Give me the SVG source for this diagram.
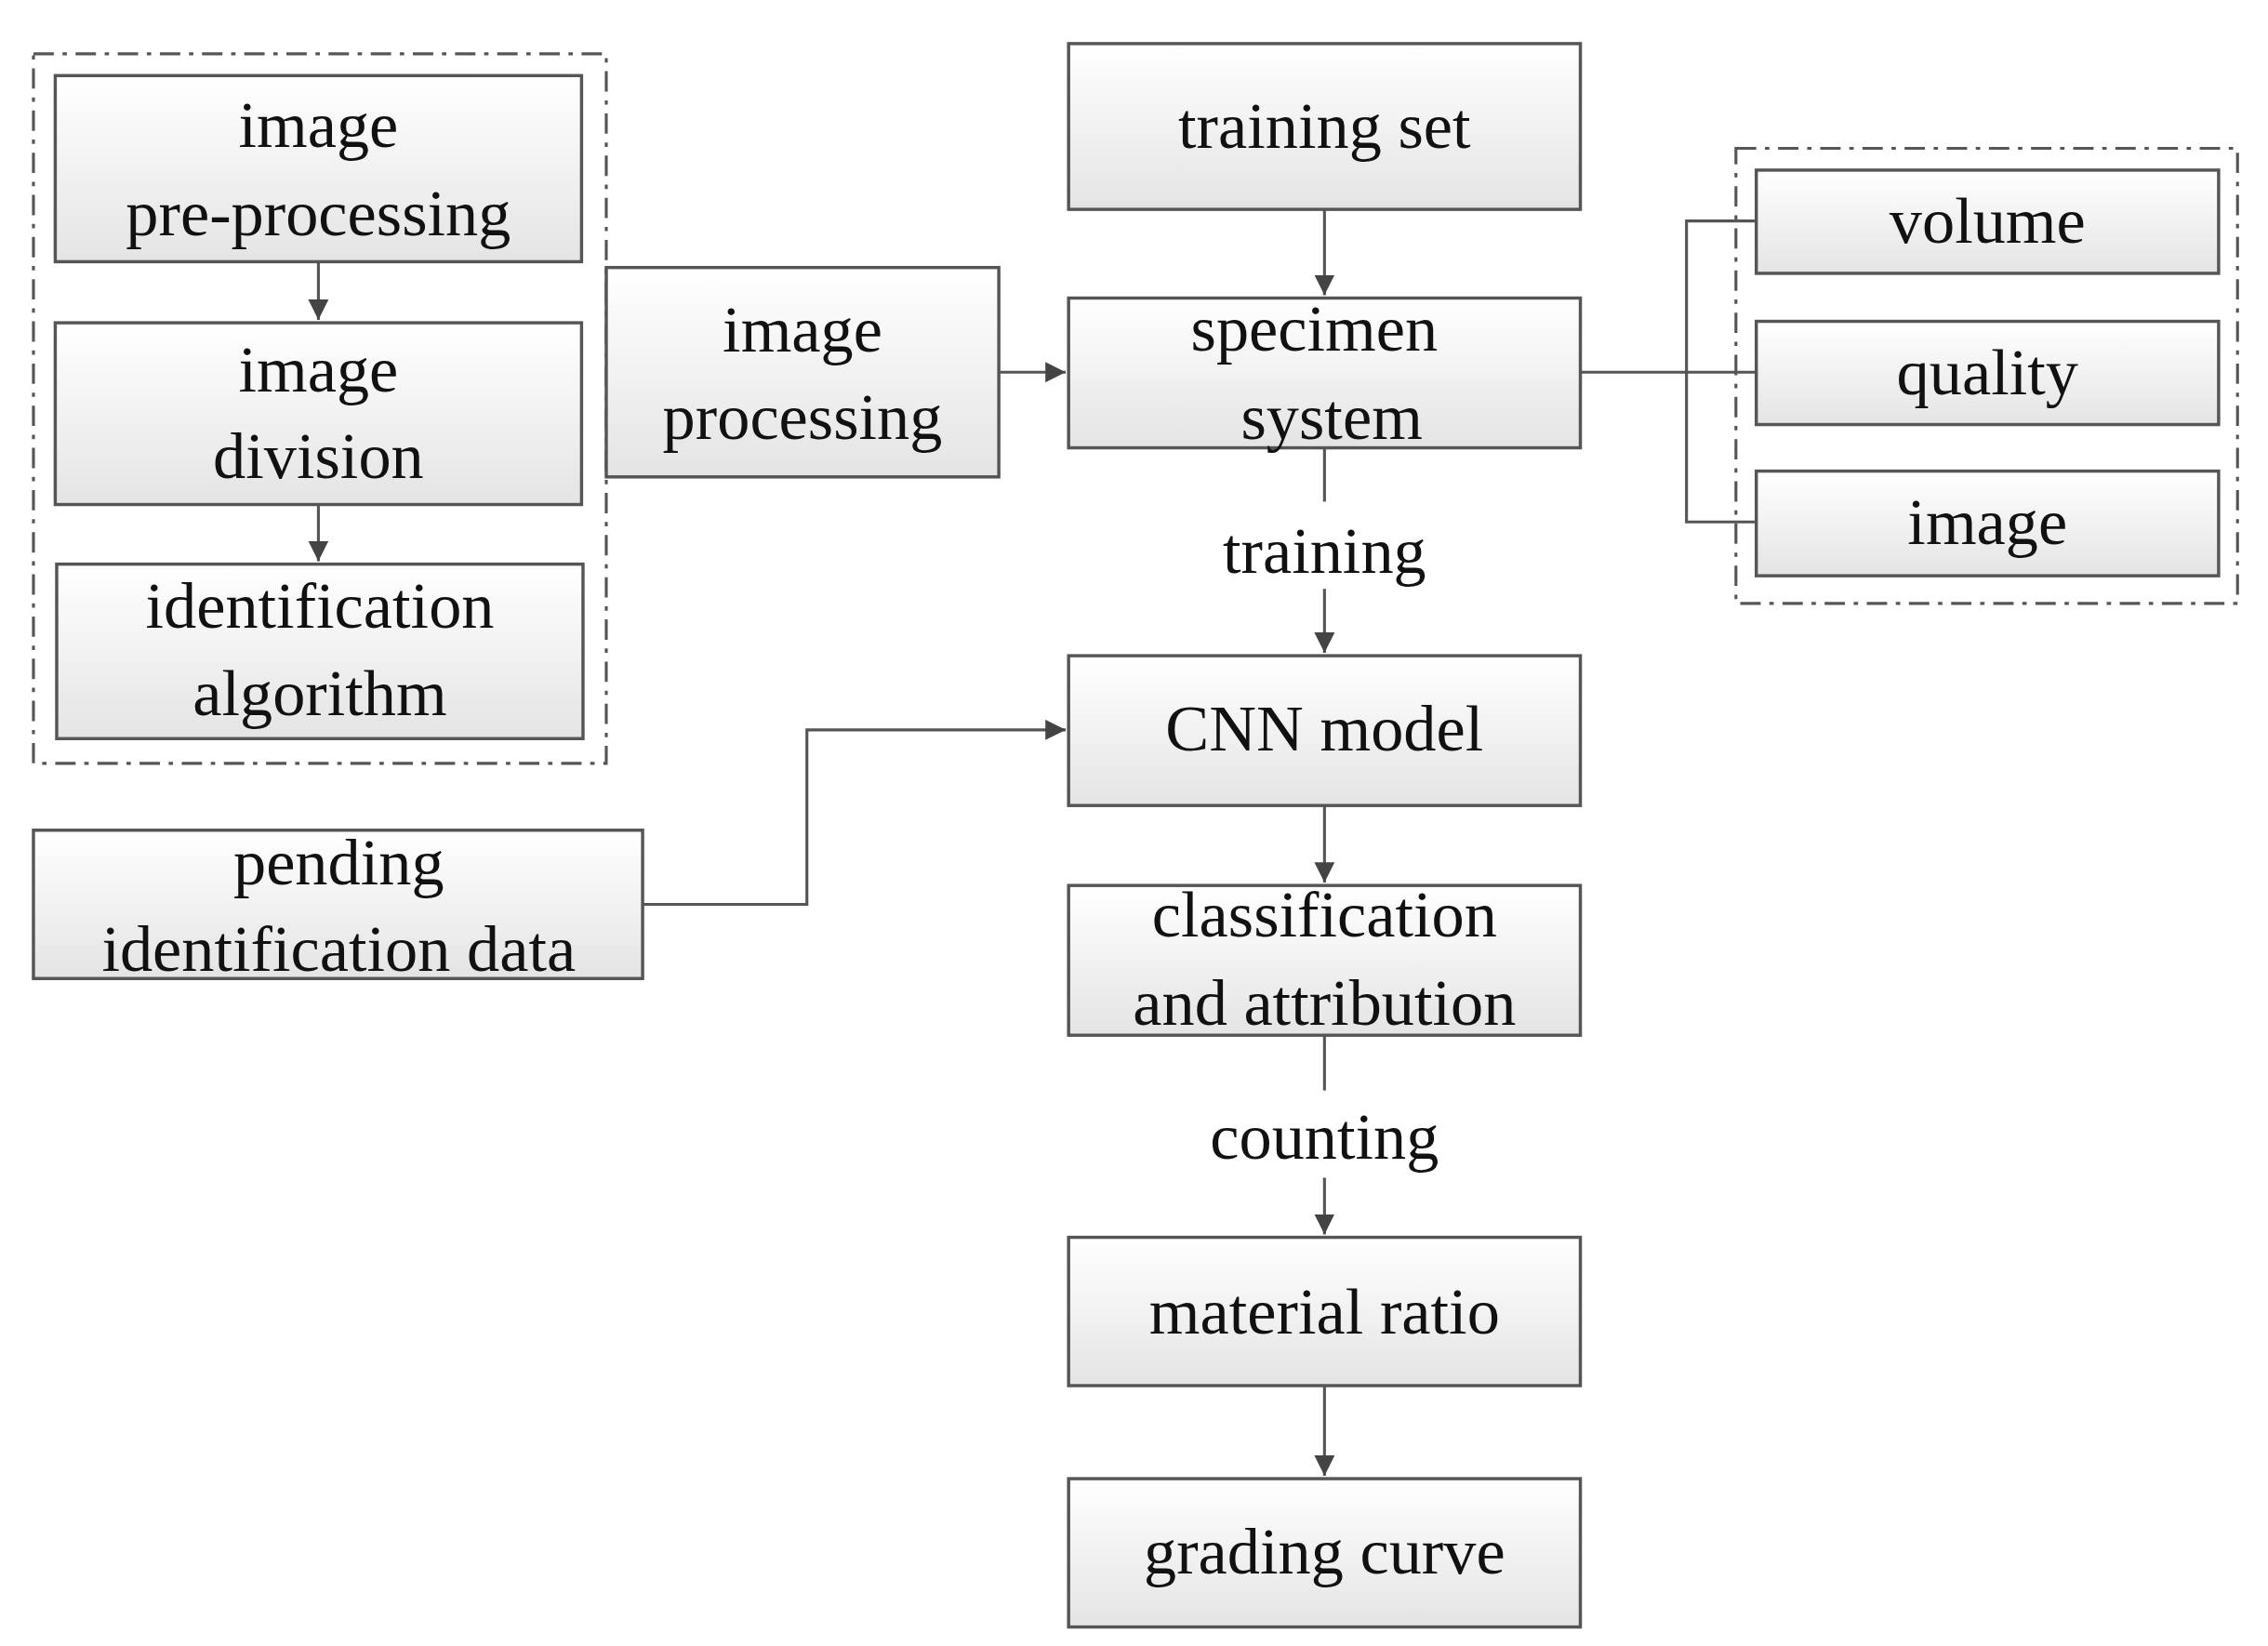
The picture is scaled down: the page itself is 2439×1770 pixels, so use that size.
<svg xmlns="http://www.w3.org/2000/svg" width="2439" height="1770" viewBox="0 0 2439 1770">
<defs>
<linearGradient id="g" x1="0" y1="0" x2="0" y2="1"><stop offset="0" stop-color="#ffffff"/><stop offset="1" stop-color="#e4e4e4"/></linearGradient>
<marker id="a" viewBox="0 0 10 10" refX="10" refY="5" markerWidth="14" markerHeight="14" markerUnits="userSpaceOnUse" orient="auto"><path d="M0,0 L10,5 L0,10 z" fill="#444"/></marker>
</defs>
<style>
.b{fill:url(#g);stroke:#555;stroke-width:2.2}
.d{fill:none;stroke:#555;stroke-width:2;stroke-dasharray:14,6,3,6}
.t{font-family:"Liberation Serif","Times New Roman",serif;font-size:45px;fill:#111;text-anchor:middle}
.c{fill:none;stroke:#555;stroke-width:2}
.ar{fill:none;stroke:#555;stroke-width:2;marker-end:url(#a)}
</style>
<rect width="2439" height="1770" fill="#fff"/>
<g transform="scale(1.5635)">
<rect class="d" x="23" y="37" width="394" height="488"/>
<rect class="d" x="1194" y="102" width="345" height="313"/>
<g id="connectors">
<path class="ar" d="M219,180 V220"/>
<path class="ar" d="M219,347 V386"/>
<path class="ar" d="M687,256 H733"/>
<path class="ar" d="M911,144 V203"/>
<path class="c" d="M911,308 V345"/>
<path class="ar" d="M911,405 V449"/>
<path class="ar" d="M442,622 H555 V502 H733"/>
<path class="ar" d="M911,554 V607"/>
<path class="c" d="M911,712 V750"/>
<path class="ar" d="M911,810 V849"/>
<path class="ar" d="M911,953 V1015"/>
<path class="c" d="M1087,256 H1208 M1208,152 H1160 V359 H1208"/>
<text class="t" x="911" y="394">training</text>
<text class="t" x="911" y="797">counting</text>
</g>
<g id="n1"><rect class="b" x="38" y="52" width="362" height="128"/><text class="t" x="219" y="101">image</text><text class="t" x="219" y="162">pre-processing</text></g>
<g id="n2"><rect class="b" x="38" y="222" width="362" height="125"/><text class="t" x="219" y="269">image</text><text class="t" x="219" y="329">division</text></g>
<g id="n3"><rect class="b" x="39" y="388" width="362" height="120"/><text class="t" x="220" y="432">identification</text><text class="t" x="220" y="492">algorithm</text></g>
<g id="n4"><rect class="b" x="417" y="184" width="270" height="144"/><text class="t" x="552" y="242">image</text><text class="t" x="552" y="302">processing</text></g>
<g id="n5"><rect class="b" x="735" y="30" width="352" height="114"/><text class="t" x="911" y="102">training set</text></g>
<g id="n6"><rect class="b" x="735" y="205" width="352" height="103"/><text class="t" x="904" y="241">specimen</text><text class="t" x="916" y="302">system</text></g>
<g id="n7"><rect class="b" x="735" y="451" width="352" height="103"/><text class="t" x="911" y="516">CNN model</text></g>
<g id="n8"><rect class="b" x="735" y="609" width="352" height="103"/><text class="t" x="911" y="644">classification</text><text class="t" x="911" y="705">and  attribution</text></g>
<g id="n9"><rect class="b" x="735" y="851" width="352" height="102"/><text class="t" x="911" y="917">material ratio</text></g>
<g id="n10"><rect class="b" x="735" y="1017" width="352" height="102"/><text class="t" x="911" y="1082">grading curve</text></g>
<g id="n11"><rect class="b" x="23" y="571" width="419" height="102"/><text class="t" x="233" y="608">pending</text><text class="t" x="233" y="668">identification data</text></g>
<g id="n12"><rect class="b" x="1208" y="117" width="318" height="71"/><text class="t" x="1367" y="167">volume</text></g>
<g id="n13"><rect class="b" x="1208" y="221" width="318" height="71"/><text class="t" x="1367" y="271">quality</text></g>
<g id="n14"><rect class="b" x="1208" y="324" width="318" height="72"/><text class="t" x="1367" y="374">image</text></g>
</g>
</svg>
